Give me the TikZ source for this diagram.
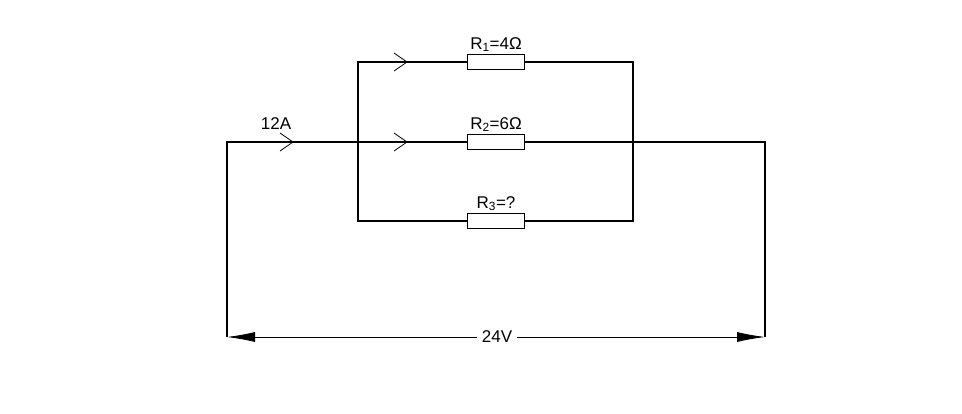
\documentclass[tikz,border=0pt]{standalone}
\usepackage{fontspec}
\setmainfont{Liberation Sans}
\usetikzlibrary{arrows.meta}
\begin{document}
\begin{tikzpicture}[x=1pt,y=-1pt,
  wire/.style={line width=1.2pt},
  res/.style={draw,line width=1.2pt,fill=white,minimum width=57pt,minimum height=15pt,inner sep=0pt},
  lbl/.style={font=\fontsize{17}{19}\selectfont,inner sep=1pt},
  chev/.style={line width=0.8pt}]
\useasboundingbox (0,0) rectangle (962,413);
\coordinate (TL) at (358,62); \coordinate (TR) at (633,62);
\coordinate (BL) at (358,221); \coordinate (BR) at (633,221);
\coordinate (ML) at (227,142); \coordinate (MR) at (765,142);
\coordinate (DL) at (227,337); \coordinate (DR) at (765,337);
\draw[wire] (TL) -- (TR) -- (BR) -- (BL) -- cycle;
\draw[wire] (DL) -- (ML) -- (MR) -- (DR);
\node[res] (r1) at (496,62) {};
\node[res] (r2) at (496,142) {};
\node[res] (r3) at (496,221) {};
\node[lbl,anchor=south] (l1) at (496,53) {R\textsubscript{1}=4Ω};
\node[lbl,anchor=south] (l2) at (496,133) {R\textsubscript{2}=6Ω};
\node[lbl,anchor=south] (l3) at (496,212) {R\textsubscript{3}=?};
\node[lbl,anchor=south] (i) at (276,131) {12A};
\foreach \x/\y in {394/62,394/142,280/142}
  \draw[chev] (\x,\y-9) -- (\x+13,\y) -- (\x,\y+9);
\node[lbl,fill=white,inner sep=5pt] (v) at (497,337) {24V};
\draw[line width=0.8pt,-{Latex[length=28pt,width=10pt]}] (v) -- (DL);
\draw[line width=0.8pt,-{Latex[length=28pt,width=10pt]}] (v) -- (DR);
\end{tikzpicture}
\end{document}
